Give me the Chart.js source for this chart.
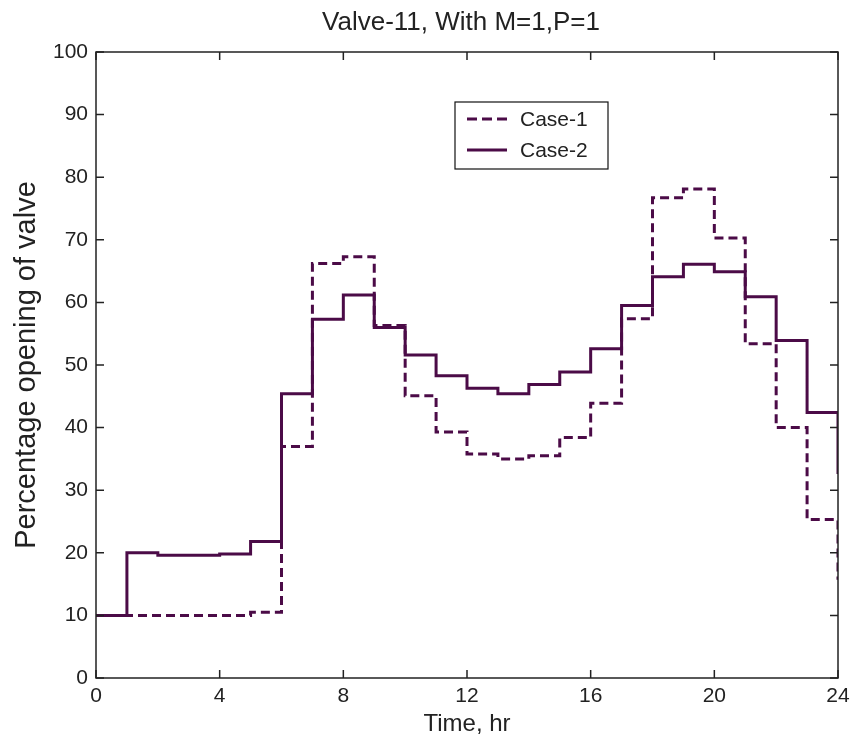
<!DOCTYPE html>
<html>
<head>
<meta charset="utf-8">
<script src="https://cdn.jsdelivr.net/npm/chart.js@4.4.1/dist/chart.umd.min.js"></script>
<style>
    html, body { margin: 0; padding: 0; background: #fff; }
    #wrap { width: 851px; height: 749px; }
</style>
</head>
<body>
<div id="wrap"><canvas id="valveChart"></canvas></div>
<script>
// hours 0..24, the value at h holds until h+1
const hours = [0, 1, 2, 3, 4, 5, 6, 7, 8, 9, 10, 11, 12, 13, 14, 15, 16, 17, 18, 19, 20, 21, 22, 23, 24, 24];
const case1 = [10, 10, 10, 10, 10, 10.5, 37, 66.2, 67.3, 56.3, 45.1, 39.3, 35.8, 35, 35.5, 38.4, 43.9, 57.4, 76.7, 78.1, 70.3, 53.4, 40, 25.3, 25.3, 15.7];
const case2 = [10, 20, 19.6, 19.6, 19.8, 21.8, 45.4, 57.3, 61.2, 56, 51.6, 48.3, 46.3, 45.4, 46.9, 48.9, 52.6, 59.5, 64.1, 66.1, 64.9, 60.9, 53.9, 42.4, 42.4, 32.6];
const xTicks = [0, 4, 8, 12, 16, 20, 24];
const yTicks = [0, 10, 20, 30, 40, 50, 60, 70, 80, 90, 100];
const chartTitle = 'Valve-11, With M=1,P=1';

const lineColor = '#4b0b47';
const fontFamily = "'Liberation Sans', Arial, sans-serif";

function toPoints(ys) {
    return ys.map((y, i) => ({ x: hours[i], y: y }));
}

// title over the plot, box frame, inward ticks on all sides, legend in the plot
const framePlugin = {
    id: 'frame',
    afterDraw(chart) {
        const ctx = chart.ctx;
        const a = chart.chartArea;
        const xs = chart.scales.x, ys = chart.scales.y;
        ctx.save();

        ctx.fillStyle = '#222';
        ctx.font = '26px ' + fontFamily;
        ctx.textAlign = 'center';
        ctx.textBaseline = 'middle';
        ctx.fillText(chartTitle, (a.left + a.right) / 2 - 6, 23);

        ctx.strokeStyle = '#222';
        ctx.lineWidth = 1.5;
        ctx.strokeRect(a.left, a.top, a.right - a.left, a.bottom - a.top);
        ctx.beginPath();
        xTicks.forEach(v => {
            const px = xs.getPixelForValue(v);
            ctx.moveTo(px, a.bottom); ctx.lineTo(px, a.bottom - 8);
            ctx.moveTo(px, a.top); ctx.lineTo(px, a.top + 8);
        });
        yTicks.forEach(v => {
            const py = ys.getPixelForValue(v);
            ctx.moveTo(a.left, py); ctx.lineTo(a.left + 8, py);
            ctx.moveTo(a.right, py); ctx.lineTo(a.right - 8, py);
        });
        ctx.stroke();

        // legend
        const lx = a.left + 359, ly = a.top + 50;
        ctx.fillStyle = '#fff';
        ctx.fillRect(lx, ly, 153, 67);
        ctx.strokeStyle = '#111';
        ctx.lineWidth = 1.2;
        ctx.strokeRect(lx, ly, 153, 67);
        ctx.strokeStyle = lineColor;
        ctx.lineWidth = 3;
        ctx.setLineDash([10, 5]);
        ctx.beginPath(); ctx.moveTo(lx + 12, ly + 17); ctx.lineTo(lx + 52, ly + 17); ctx.stroke();
        ctx.setLineDash([]);
        ctx.beginPath(); ctx.moveTo(lx + 12, ly + 48); ctx.lineTo(lx + 52, ly + 48); ctx.stroke();
        ctx.fillStyle = '#222';
        ctx.font = '21px ' + fontFamily;
        ctx.textAlign = 'left';
        ctx.fillText('Case-1', lx + 65, ly + 18);
        ctx.fillText('Case-2', lx + 65, ly + 49);
        ctx.restore();
    }
};

new Chart(document.getElementById('valveChart').getContext('2d'), {
    type: 'line',
    data: {
        datasets: [
            {
                label: 'Case-1',
                data: toPoints(case1),
                borderColor: lineColor,
                borderWidth: 3,
                borderDash: [9, 5],
                stepped: 'before',
                pointRadius: 0,
                fill: false
            },
            {
                label: 'Case-2',
                data: toPoints(case2),
                borderColor: lineColor,
                borderWidth: 3,
                stepped: 'before',
                pointRadius: 0,
                fill: false
            }
        ]
    },
    options: {
        responsive: true,
        maintainAspectRatio: false,
        animation: false,
        layout: { padding: { left: 0, right: 13, top: 52, bottom: 0 } },
        plugins: {
            legend: { display: false },
            tooltip: { enabled: false },
            title: { display: false }
        },
        scales: {
            x: {
                type: 'linear',
                min: 0,
                max: 24,
                afterBuildTicks: s => { s.ticks = xTicks.map(v => ({ value: v })); },
                afterFit: s => { s.height = 71; s.paddingLeft = 0; s.paddingRight = 0; },
                grid: { display: false, drawTicks: false },
                border: { display: false },
                ticks: { color: '#222', padding: 6, font: { family: fontFamily, size: 21 } },
                title: {
                    display: true,
                    text: 'Time, hr',
                    color: '#222',
                    padding: { top: 0, bottom: 10 },
                    font: { family: fontFamily, size: 24 }
                }
            },
            y: {
                min: 0,
                max: 100,
                afterBuildTicks: s => { s.ticks = yTicks.map(v => ({ value: v })); },
                afterFit: s => { s.width = 96; s.paddingTop = 0; s.paddingBottom = 0; },
                grid: { display: false, drawTicks: false },
                border: { display: false },
                ticks: { color: '#222', padding: 8, font: { family: fontFamily, size: 21 } },
                title: {
                    display: true,
                    text: 'Percentage opening of valve',
                    color: '#222',
                    padding: { top: 10, bottom: 0 },
                    font: { family: fontFamily, size: 29 }
                }
            }
        }
    },
    plugins: [framePlugin]
});
</script>
</body>
</html>
